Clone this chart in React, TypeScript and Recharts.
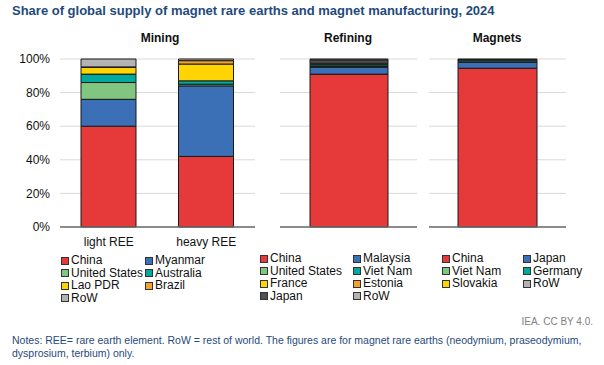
import React from 'react';
import { BarChart, Bar, XAxis, YAxis, CartesianGrid } from 'recharts';

// Mining: light vs heavy rare earths, shares in %
const miningCategories = ['light REE', 'heavy REE'];
const miningChina = [60, 42];
const miningMyanmar = [16, 42];
const miningUnitedStates = [10, 1];
const miningAustralia = [5, 2];
const miningLaoPDR = [4, 10];
const miningBrazil = [0.3, 2];
const miningRoW = [4.7, 1];

// Refining, shares in %
const refiningChina = [91];
const refiningMalaysia = [4];
const refiningUnitedStates = [0.5];
const refiningVietNam = [1];
const refiningFrance = [0.3];
const refiningEstonia = [0.7];
const refiningJapan = [2];
const refiningRoW = [0.5];

// Magnet manufacturing, shares in %
const magnetsChina = [94.5];
const magnetsJapan = [3.5];
const magnetsVietNam = [0.8];
const magnetsGermany = [0.7];
const magnetsSlovakia = [0.2];
const magnetsRoW = [0.3];

const yTicks = [0, 20, 40, 60, 80, 100];

const RED = '#e63a3a';
const BLUE = '#3b6fb6';
const GREEN = '#80c680';
const TEAL = '#00a99d';
const YELLOW = '#ffd400';
const ORANGE = '#f4a22d';
const GREY = '#b3b3b3';
const DARK = '#505050';

type Series = { name: string; values: number[]; color: string };

const miningSeries: Series[] = [
  { name: 'China', values: miningChina, color: RED },
  { name: 'Myanmar', values: miningMyanmar, color: BLUE },
  { name: 'United States', values: miningUnitedStates, color: GREEN },
  { name: 'Australia', values: miningAustralia, color: TEAL },
  { name: 'Lao PDR', values: miningLaoPDR, color: YELLOW },
  { name: 'Brazil', values: miningBrazil, color: ORANGE },
  { name: 'RoW', values: miningRoW, color: GREY },
];

const refiningSeries: Series[] = [
  { name: 'China', values: refiningChina, color: RED },
  { name: 'Malaysia', values: refiningMalaysia, color: BLUE },
  { name: 'United States', values: refiningUnitedStates, color: GREEN },
  { name: 'Viet Nam', values: refiningVietNam, color: TEAL },
  { name: 'France', values: refiningFrance, color: YELLOW },
  { name: 'Estonia', values: refiningEstonia, color: ORANGE },
  { name: 'Japan', values: refiningJapan, color: DARK },
  { name: 'RoW', values: refiningRoW, color: GREY },
];

const magnetsSeries: Series[] = [
  { name: 'China', values: magnetsChina, color: RED },
  { name: 'Japan', values: magnetsJapan, color: BLUE },
  { name: 'Viet Nam', values: magnetsVietNam, color: GREEN },
  { name: 'Germany', values: magnetsGermany, color: TEAL },
  { name: 'Slovakia', values: magnetsSlovakia, color: YELLOW },
  { name: 'RoW', values: magnetsRoW, color: GREY },
];

const FONT = '"Liberation Sans", Arial, sans-serif';

const toRows = (cats: string[], series: Series[]) =>
  cats.map((cat, i) => {
    const row: Record<string, string | number> = { cat };
    series.forEach(s => { row[s.name] = s.values[i]; });
    return row;
  });

const Legend = ({ series, left, colGap, top }: { series: Series[]; left: number; colGap: number; top: number }) => (
  <>
    {series.map((s, i) => (
      <div
        key={s.name}
        style={{
          position: 'absolute',
          left: left + (i % 2) * colGap,
          top: top + Math.floor(i / 2) * 12.5,
          display: 'flex',
          alignItems: 'center',
          fontSize: 12,
          lineHeight: '13px',
          color: '#111',
          whiteSpace: 'nowrap',
        }}
      >
        <span style={{ width: 6, height: 6, background: s.color, border: '1px solid #333', marginRight: 2 }} />
        {s.name}
      </div>
    ))}
  </>
);

const Panel = ({
  cats, series, left, width, yAxis, barSize, showTicks,
}: {
  cats: string[]; series: Series[]; left: number; width: number; yAxis: boolean; barSize: number; showTicks: boolean;
}) => (
  <div style={{ position: 'absolute', left, top: 50 }}>
    <BarChart
      width={width}
      height={207}
      data={toRows(cats, series)}
      margin={{ top: 9, right: yAxis ? 5 : 0, bottom: 0, left: 0 }}
      barSize={barSize}
    >
      <CartesianGrid vertical={false} stroke="#d9d9d9" />
      <XAxis
        dataKey="cat"
        tickLine={false}
        tick={showTicks ? { fill: '#111', fontSize: 12 } : false}
        tickMargin={4}
        axisLine={{ stroke: '#6b6b6b', strokeWidth: 1.5 }}
      />
      <YAxis
        hide={!yAxis}
        domain={[0, 100]}
        ticks={yTicks}
        width={60}
        tickLine={false}
        axisLine={false}
        tickMargin={4}
        tick={{ fill: '#111', fontSize: 12 }}
        tickFormatter={(v: number) => `${v}%`}
      />
      {series.map(s => (
        <Bar
          key={s.name}
          dataKey={s.name}
          stackId="a"
          fill={s.color}
          stroke="#1a1a1a"
          strokeWidth={1}
          isAnimationActive={false}
        />
      ))}
    </BarChart>
  </div>
);

const heading: React.CSSProperties = {
  position: 'absolute',
  top: 31,
  fontWeight: 'bold',
  fontSize: 12,
  color: '#111',
  transform: 'translateX(-50%)',
  whiteSpace: 'nowrap',
};

export default function App() {
  return (
    <div
      style={{
        position: 'absolute',
        left: 0,
        top: 0,
        width: 604,
        height: 365,
        background: '#fff',
        fontFamily: FONT,
        overflow: 'hidden',
      }}
    >
      <div style={{ position: 'absolute', left: 12, top: 3, fontSize: 13, fontWeight: 'bold', color: '#1f4a7c', whiteSpace: 'nowrap' }}>
        Share of global supply of magnet rare earths and magnet manufacturing, 2024
      </div>

      <div style={{ ...heading, left: 160 }}>Mining</div>
      <div style={{ ...heading, left: 348 }}>Refining</div>
      <div style={{ ...heading, left: 497 }}>Magnets</div>

      <Panel cats={miningCategories} series={miningSeries} left={0} width={260} yAxis barSize={55} showTicks />
      <Panel cats={['Refining']} series={refiningSeries} left={280} width={137} yAxis={false} barSize={78} showTicks={false} />
      <Panel cats={['Magnets']} series={magnetsSeries} left={429} width={137} yAxis={false} barSize={79} showTicks={false} />

      <Legend series={miningSeries} left={61} colGap={84} top={254} />
      <Legend series={refiningSeries} left={260} colGap={93} top={252} />
      <Legend series={magnetsSeries} left={442} colGap={81} top={252} />

      <div style={{ position: 'absolute', right: 11, top: 316, fontSize: 10, color: '#808080' }}>IEA. CC BY 4.0.</div>
      <div style={{ position: 'absolute', left: 12, top: 334, width: 585, fontSize: 10.5, lineHeight: '13px', color: '#1f4a7c' }}>
        Notes: REE= rare earth element. RoW = rest of world. The figures are for magnet rare earths (neodymium, praseodymium,
        dysprosium, terbium) only.
      </div>
    </div>
  );
}
